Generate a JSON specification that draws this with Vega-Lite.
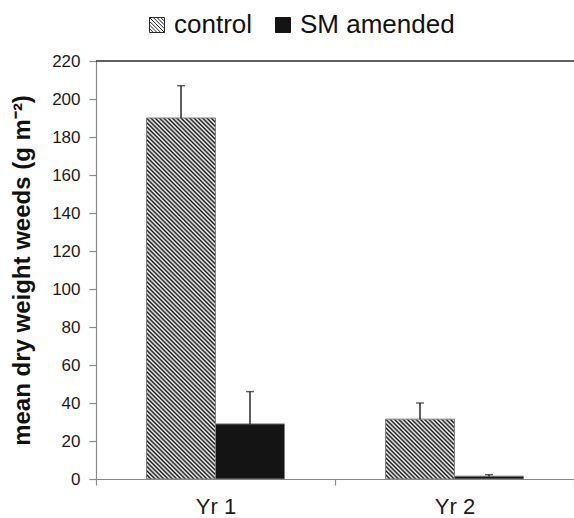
{
  "$schema": "https://vega.github.io/schema/vega-lite/v6.json",
  "width": 478,
  "height": 418,
  "autosize": {"type": "none"},
  "padding": {"left": 96, "top": 61, "right": 0, "bottom": 39},
  "background": "#ffffff",
  "config": {
    "font": "Liberation Sans",
    "view": {"stroke": null},
    "legend": {
      "title": null,
      "orient": "none",
      "direction": "horizontal",
      "legendX": 48,
      "legendY": -49,
      "symbolSize": 225,
      "symbolStrokeWidth": 1,
      "symbolOpacity": 1,
      "labelFontSize": 26,
      "labelColor": "#111111",
      "labelOffset": 4,
      "columnPadding": 17
    },
    "axisY": {
      "domainColor": "#8a8a8a",
      "domainWidth": 1.2,
      "tickColor": "#8a8a8a",
      "tickWidth": 1.2,
      "tickSize": 7,
      "tickCount": 11,
      "labelPadding": 9,
      "labelFontSize": 17,
      "labelColor": "#1a1a1a",
      "grid": false,
      "titleFontSize": 24,
      "titleFontWeight": "bold",
      "titleColor": "#111111",
      "titlePadding": 17
    },
    "axisX": {
      "domainColor": "#8a8a8a",
      "domainWidth": 1.2,
      "tickColor": "#8a8a8a",
      "tickWidth": 1.2,
      "tickSize": 6,
      "tickBand": "extent",
      "labelPadding": 11,
      "labelFontSize": 22,
      "labelColor": "#1a1a1a",
      "labelAngle": 0,
      "grid": false,
      "title": null
    }
  },
  "data": {
    "values": [
      {"year": "Yr 1", "treatment": "control", "mean": 190, "upper": 207},
      {"year": "Yr 1", "treatment": "SM amended", "mean": 29, "upper": 46},
      {"year": "Yr 2", "treatment": "control", "mean": 31.5, "upper": 40},
      {"year": "Yr 2", "treatment": "SM amended", "mean": 1.5, "upper": 2.3}
    ]
  },
  "layer": [
    {
      "mark": {"type": "bar", "stroke": "#808080", "strokeWidth": 1},
      "encoding": {
        "x": {"field": "year", "type": "nominal", "sort": ["Yr 1", "Yr 2"], "scale": {"paddingInner": 0, "paddingOuter": 0}},
        "xOffset": {"field": "treatment", "type": "nominal", "sort": ["control", "SM amended"], "scale": {"paddingInner": 0, "paddingOuter": 0.732}},
        "y": {"field": "mean", "type": "quantitative", "stack": null, "scale": {"domain": [0, 220], "nice": false}, "title": "mean dry weight weeds (g m⁻²)"},
        "fill": {
          "field": "treatment",
          "type": "nominal",
          "scale": {"domain": ["control", "SM amended"], "range": ["#ffffff", "#141414"]},
          "condition": [
            {
              "test": "datum.treatment === 'control' && datum.year === 'Yr 1'",
              "value": {
                "gradient": "linear", "x1": 0, "y1": 1, "x2": 0.2186, "y2": -0.1487,
                "stops": [
                  {"offset":0,"color":"#111"},{"offset":0.005,"color":"#fff"},{"offset":0.01,"color":"#111"},{"offset":0.015,"color":"#fff"},
                  {"offset":0.02,"color":"#111"},{"offset":0.025,"color":"#fff"},{"offset":0.03,"color":"#111"},{"offset":0.035,"color":"#fff"},
                  {"offset":0.04,"color":"#111"},{"offset":0.045,"color":"#fff"},{"offset":0.05,"color":"#111"},{"offset":0.055,"color":"#fff"},
                  {"offset":0.06,"color":"#111"},{"offset":0.065,"color":"#fff"},{"offset":0.07,"color":"#111"},{"offset":0.075,"color":"#fff"},
                  {"offset":0.08,"color":"#111"},{"offset":0.085,"color":"#fff"},{"offset":0.09,"color":"#111"},{"offset":0.095,"color":"#fff"},
                  {"offset":0.1,"color":"#111"},{"offset":0.105,"color":"#fff"},{"offset":0.11,"color":"#111"},{"offset":0.115,"color":"#fff"},
                  {"offset":0.12,"color":"#111"},{"offset":0.125,"color":"#fff"},{"offset":0.13,"color":"#111"},{"offset":0.135,"color":"#fff"},
                  {"offset":0.14,"color":"#111"},{"offset":0.145,"color":"#fff"},{"offset":0.15,"color":"#111"},{"offset":0.155,"color":"#fff"},
                  {"offset":0.16,"color":"#111"},{"offset":0.165,"color":"#fff"},{"offset":0.17,"color":"#111"},{"offset":0.175,"color":"#fff"},
                  {"offset":0.18,"color":"#111"},{"offset":0.185,"color":"#fff"},{"offset":0.19,"color":"#111"},{"offset":0.195,"color":"#fff"},
                  {"offset":0.2,"color":"#111"},{"offset":0.205,"color":"#fff"},{"offset":0.21,"color":"#111"},{"offset":0.215,"color":"#fff"},
                  {"offset":0.22,"color":"#111"},{"offset":0.225,"color":"#fff"},{"offset":0.23,"color":"#111"},{"offset":0.235,"color":"#fff"},
                  {"offset":0.24,"color":"#111"},{"offset":0.245,"color":"#fff"},{"offset":0.25,"color":"#111"},{"offset":0.255,"color":"#fff"},
                  {"offset":0.26,"color":"#111"},{"offset":0.265,"color":"#fff"},{"offset":0.27,"color":"#111"},{"offset":0.275,"color":"#fff"},
                  {"offset":0.28,"color":"#111"},{"offset":0.285,"color":"#fff"},{"offset":0.29,"color":"#111"},{"offset":0.295,"color":"#fff"},
                  {"offset":0.3,"color":"#111"},{"offset":0.305,"color":"#fff"},{"offset":0.31,"color":"#111"},{"offset":0.315,"color":"#fff"},
                  {"offset":0.32,"color":"#111"},{"offset":0.325,"color":"#fff"},{"offset":0.33,"color":"#111"},{"offset":0.335,"color":"#fff"},
                  {"offset":0.34,"color":"#111"},{"offset":0.345,"color":"#fff"},{"offset":0.35,"color":"#111"},{"offset":0.355,"color":"#fff"},
                  {"offset":0.36,"color":"#111"},{"offset":0.365,"color":"#fff"},{"offset":0.37,"color":"#111"},{"offset":0.375,"color":"#fff"},
                  {"offset":0.38,"color":"#111"},{"offset":0.385,"color":"#fff"},{"offset":0.39,"color":"#111"},{"offset":0.395,"color":"#fff"},
                  {"offset":0.4,"color":"#111"},{"offset":0.405,"color":"#fff"},{"offset":0.41,"color":"#111"},{"offset":0.415,"color":"#fff"},
                  {"offset":0.42,"color":"#111"},{"offset":0.425,"color":"#fff"},{"offset":0.43,"color":"#111"},{"offset":0.435,"color":"#fff"},
                  {"offset":0.44,"color":"#111"},{"offset":0.445,"color":"#fff"},{"offset":0.45,"color":"#111"},{"offset":0.455,"color":"#fff"},
                  {"offset":0.46,"color":"#111"},{"offset":0.465,"color":"#fff"},{"offset":0.47,"color":"#111"},{"offset":0.475,"color":"#fff"},
                  {"offset":0.48,"color":"#111"},{"offset":0.485,"color":"#fff"},{"offset":0.49,"color":"#111"},{"offset":0.495,"color":"#fff"},
                  {"offset":0.5,"color":"#111"},{"offset":0.505,"color":"#fff"},{"offset":0.51,"color":"#111"},{"offset":0.515,"color":"#fff"},
                  {"offset":0.52,"color":"#111"},{"offset":0.525,"color":"#fff"},{"offset":0.53,"color":"#111"},{"offset":0.535,"color":"#fff"},
                  {"offset":0.54,"color":"#111"},{"offset":0.545,"color":"#fff"},{"offset":0.55,"color":"#111"},{"offset":0.555,"color":"#fff"},
                  {"offset":0.56,"color":"#111"},{"offset":0.565,"color":"#fff"},{"offset":0.57,"color":"#111"},{"offset":0.575,"color":"#fff"},
                  {"offset":0.58,"color":"#111"},{"offset":0.585,"color":"#fff"},{"offset":0.59,"color":"#111"},{"offset":0.595,"color":"#fff"},
                  {"offset":0.6,"color":"#111"},{"offset":0.605,"color":"#fff"},{"offset":0.61,"color":"#111"},{"offset":0.615,"color":"#fff"},
                  {"offset":0.62,"color":"#111"},{"offset":0.625,"color":"#fff"},{"offset":0.63,"color":"#111"},{"offset":0.635,"color":"#fff"},
                  {"offset":0.64,"color":"#111"},{"offset":0.645,"color":"#fff"},{"offset":0.65,"color":"#111"},{"offset":0.655,"color":"#fff"},
                  {"offset":0.66,"color":"#111"},{"offset":0.665,"color":"#fff"},{"offset":0.67,"color":"#111"},{"offset":0.675,"color":"#fff"},
                  {"offset":0.68,"color":"#111"},{"offset":0.685,"color":"#fff"},{"offset":0.69,"color":"#111"},{"offset":0.695,"color":"#fff"},
                  {"offset":0.7,"color":"#111"},{"offset":0.705,"color":"#fff"},{"offset":0.71,"color":"#111"},{"offset":0.715,"color":"#fff"},
                  {"offset":0.72,"color":"#111"},{"offset":0.725,"color":"#fff"},{"offset":0.73,"color":"#111"},{"offset":0.735,"color":"#fff"},
                  {"offset":0.74,"color":"#111"},{"offset":0.745,"color":"#fff"},{"offset":0.75,"color":"#111"},{"offset":0.755,"color":"#fff"},
                  {"offset":0.76,"color":"#111"},{"offset":0.765,"color":"#fff"},{"offset":0.77,"color":"#111"},{"offset":0.775,"color":"#fff"},
                  {"offset":0.78,"color":"#111"},{"offset":0.785,"color":"#fff"},{"offset":0.79,"color":"#111"},{"offset":0.795,"color":"#fff"},
                  {"offset":0.8,"color":"#111"},{"offset":0.805,"color":"#fff"},{"offset":0.81,"color":"#111"},{"offset":0.815,"color":"#fff"},
                  {"offset":0.82,"color":"#111"},{"offset":0.825,"color":"#fff"},{"offset":0.83,"color":"#111"},{"offset":0.835,"color":"#fff"},
                  {"offset":0.84,"color":"#111"},{"offset":0.845,"color":"#fff"},{"offset":0.85,"color":"#111"},{"offset":0.855,"color":"#fff"},
                  {"offset":0.86,"color":"#111"},{"offset":0.865,"color":"#fff"},{"offset":0.87,"color":"#111"},{"offset":0.875,"color":"#fff"},
                  {"offset":0.88,"color":"#111"},{"offset":0.885,"color":"#fff"},{"offset":0.89,"color":"#111"},{"offset":0.895,"color":"#fff"},
                  {"offset":0.9,"color":"#111"},{"offset":0.905,"color":"#fff"},{"offset":0.91,"color":"#111"},{"offset":0.915,"color":"#fff"},
                  {"offset":0.92,"color":"#111"},{"offset":0.925,"color":"#fff"},{"offset":0.93,"color":"#111"},{"offset":0.935,"color":"#fff"},
                  {"offset":0.94,"color":"#111"},{"offset":0.945,"color":"#fff"},{"offset":0.95,"color":"#111"},{"offset":0.955,"color":"#fff"},
                  {"offset":0.96,"color":"#111"},{"offset":0.965,"color":"#fff"},{"offset":0.97,"color":"#111"},{"offset":0.975,"color":"#fff"},
                  {"offset":0.98,"color":"#111"},{"offset":0.985,"color":"#fff"},{"offset":0.99,"color":"#111"},{"offset":0.995,"color":"#fff"},
                  {"offset":1,"color":"#111"}
                ]
              }
            },
            {
              "test": "datum.treatment === 'control' && datum.year === 'Yr 2'",
              "value": {
                "gradient": "linear", "x1": 0, "y1": 1, "x2": 1.0638, "y2": 0.0732,
                "stops": [
                  {"offset":0,"color":"#111"},{"offset":0.01667,"color":"#fff"},{"offset":0.03333,"color":"#111"},{"offset":0.05,"color":"#fff"},
                  {"offset":0.06667,"color":"#111"},{"offset":0.08333,"color":"#fff"},{"offset":0.1,"color":"#111"},{"offset":0.11667,"color":"#fff"},
                  {"offset":0.13333,"color":"#111"},{"offset":0.15,"color":"#fff"},{"offset":0.16667,"color":"#111"},{"offset":0.18333,"color":"#fff"},
                  {"offset":0.2,"color":"#111"},{"offset":0.21667,"color":"#fff"},{"offset":0.23333,"color":"#111"},{"offset":0.25,"color":"#fff"},
                  {"offset":0.26667,"color":"#111"},{"offset":0.28333,"color":"#fff"},{"offset":0.3,"color":"#111"},{"offset":0.31667,"color":"#fff"},
                  {"offset":0.33333,"color":"#111"},{"offset":0.35,"color":"#fff"},{"offset":0.36667,"color":"#111"},{"offset":0.38333,"color":"#fff"},
                  {"offset":0.4,"color":"#111"},{"offset":0.41667,"color":"#fff"},{"offset":0.43333,"color":"#111"},{"offset":0.45,"color":"#fff"},
                  {"offset":0.46667,"color":"#111"},{"offset":0.48333,"color":"#fff"},{"offset":0.5,"color":"#111"},{"offset":0.51667,"color":"#fff"},
                  {"offset":0.53333,"color":"#111"},{"offset":0.55,"color":"#fff"},{"offset":0.56667,"color":"#111"},{"offset":0.58333,"color":"#fff"},
                  {"offset":0.6,"color":"#111"},{"offset":0.61667,"color":"#fff"},{"offset":0.63333,"color":"#111"},{"offset":0.65,"color":"#fff"},
                  {"offset":0.66667,"color":"#111"},{"offset":0.68333,"color":"#fff"},{"offset":0.7,"color":"#111"},{"offset":0.71667,"color":"#fff"},
                  {"offset":0.73333,"color":"#111"},{"offset":0.75,"color":"#fff"},{"offset":0.76667,"color":"#111"},{"offset":0.78333,"color":"#fff"},
                  {"offset":0.8,"color":"#111"},{"offset":0.81667,"color":"#fff"},{"offset":0.83333,"color":"#111"},{"offset":0.85,"color":"#fff"},
                  {"offset":0.86667,"color":"#111"},{"offset":0.88333,"color":"#fff"},{"offset":0.9,"color":"#111"},{"offset":0.91667,"color":"#fff"},
                  {"offset":0.93333,"color":"#111"},{"offset":0.95,"color":"#fff"},{"offset":0.96667,"color":"#111"},{"offset":0.98333,"color":"#fff"},
                  {"offset":1,"color":"#111"}
                ]
              }
            }
          ]
        }
      }
    },
    {
      "mark": {"type": "rule", "color": "#1a1a1a", "strokeWidth": 1.4},
      "encoding": {
        "x": {"field": "year", "type": "nominal", "sort": ["Yr 1", "Yr 2"]},
        "xOffset": {"field": "treatment", "type": "nominal", "sort": ["control", "SM amended"]},
        "y": {"field": "mean", "type": "quantitative", "title": "mean dry weight weeds (g m⁻²)"},
        "y2": {"field": "upper"}
      }
    },
    {
      "mark": {"type": "tick", "color": "#1a1a1a", "size": 8, "thickness": 1.4},
      "encoding": {
        "x": {"field": "year", "type": "nominal", "sort": ["Yr 1", "Yr 2"]},
        "xOffset": {"field": "treatment", "type": "nominal", "sort": ["control", "SM amended"]},
        "y": {"field": "upper", "type": "quantitative", "title": "mean dry weight weeds (g m⁻²)"}
      }
    },
    {
      "data": {"values": [{"top": 220}]},
      "mark": {"type": "rule", "color": "#2a2a2a", "strokeWidth": 1.5},
      "encoding": {
        "y": {"field": "top", "type": "quantitative", "title": "mean dry weight weeds (g m⁻²)"}
      }
    },
    {
      "mark": {"type": "point", "filled": true, "opacity": 0, "strokeWidth": 1},
      "encoding": {
        "fill": {
          "field": "treatment",
          "type": "nominal",
          "scale": {"domain": ["control", "SM amended"], "range": ["#ffffff", "#141414"]}
        },
        "stroke": {
          "field": "treatment",
          "type": "nominal",
          "scale": {"domain": ["control", "SM amended"], "range": ["#2a2a2a", "#141414"]}
        },
        "shape": {
          "field": "treatment",
          "type": "nominal",
          "scale": {
            "domain": ["control", "SM amended"],
            "range": [
              "M-1,-1H1V1H-1ZM-1,-1L1,1M-0.5,-1L1,0.5M0,-1L1,0M0.5,-1L1,-0.5M-1,-0.5L0.5,1M-1,0L0,1M-1,0.5L-0.5,1",
              "square"
            ]
          }
        }
      }
    }
  ]
}
